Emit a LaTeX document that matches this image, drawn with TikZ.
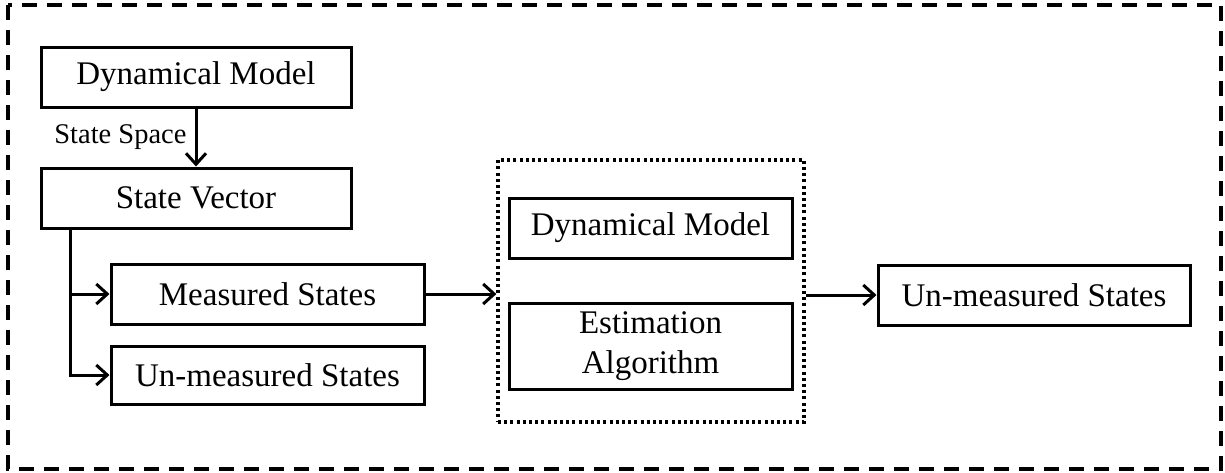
\documentclass[tikz,border=0pt]{standalone}
\usepackage{fontspec}
\setmainfont{Liberation Serif}
\usetikzlibrary{arrows.meta,calc}
\begin{document}
\begin{tikzpicture}[x=1pt,y=1pt,
  box/.style={draw,line width=3pt,inner sep=0pt,align=center,font=\fontsize{33}{40}\selectfont},
  arr/.style={line width=3pt,-{Straight Barb[length=11pt,width=20pt,line width=3pt]}},
  lbl/.style={font=\fontsize{28.5}{32}\selectfont,inner sep=0pt}]
\useasboundingbox (0,0) rectangle (1225,-472);
\draw[line width=3.5pt,dash pattern=on 15pt off 10pt] (8,-5) rectangle (1221,-469);
\node[box,minimum width=310,minimum height=60] (dm1) at (196,-77) {Dynamical Model};
\node[box,minimum width=310,minimum height=60] (sv) at (196,-198) {State Vector};
\node[box,minimum width=313,minimum height=60] (ms) at (267.5,-294) {Measured States};
\node[box,minimum width=313,minimum height=58] (um1) at (267.5,-375) {Un-measured States};
\node[draw,line width=3.2pt,dash pattern=on 3pt off 3.2pt,minimum width=306,minimum height=262,inner sep=0pt] (ebox) at (651,-291) {};
\node[box,minimum width=283,minimum height=60] (dm2) at (650.5,-228) {Dynamical Model};
\node[box,minimum width=283,minimum height=86] (est) at (650.5,-346) {Estimation\\Algorithm};
\node[box,minimum width=312,minimum height=60] (um2) at (1034,-295) {Un-measured States};
\draw[arr] (dm1.south) -- node[lbl,left=8pt] {State Space} (sv.north);
\path (sv.south west) ++(31,0) coordinate (t);
\draw[arr] (t) |- (um1.west);
\draw[arr] (t |- ms.west) -- (ms.west);
\draw[arr] (ms.east) -- (ebox.west |- ms.east);
\draw[arr] (ebox.east |- um2.west) -- (um2.west);
\end{tikzpicture}
\end{document}
